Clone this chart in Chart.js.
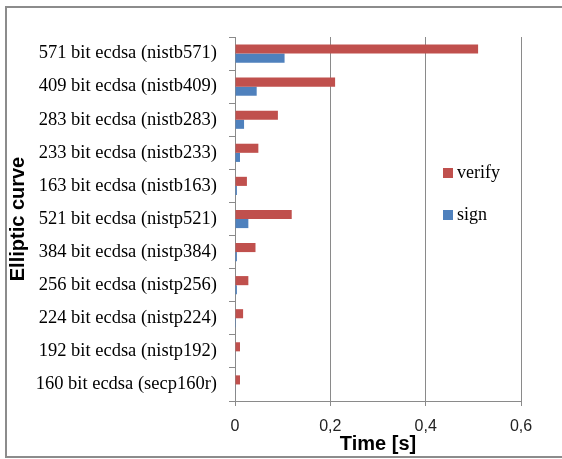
<!DOCTYPE html>
<html>
<head>
<meta charset="utf-8">
<script src="https://cdn.jsdelivr.net/npm/chart.js@4.4.0/dist/chart.umd.min.js"></script>
<style>
  html, body { margin:0; padding:0; background:#fff; }
  canvas { display:block; }
</style>
</head>
<body>
<canvas id="c" width="562" height="459"></canvas>
<script>
const curves = [
  '571 bit ecdsa (nistb571)',
  '409 bit ecdsa (nistb409)',
  '283 bit ecdsa (nistb283)',
  '233 bit ecdsa (nistb233)',
  '163 bit ecdsa (nistb163)',
  '521 bit ecdsa (nistp521)',
  '384 bit ecdsa (nistp384)',
  '256 bit ecdsa (nistp256)',
  '224 bit ecdsa (nistp224)',
  '192 bit ecdsa (nistp192)',
  '160 bit ecdsa (secp160r)'
];
const verifyTimes = [0.510, 0.210, 0.090, 0.049, 0.025, 0.119, 0.043, 0.028, 0.017, 0.0105, 0.0105];
const signTimes   = [0.104, 0.0455, 0.019, 0.0105, 0.004, 0.028, 0.004, 0.004, 0.002, 0.0012, 0.0012];
const xTicks = [0, 0.2, 0.4, 0.6];

const RED = '#C0504D', BLUE = '#4F81BD', GRID = '#8a8a8a';
const SERIF = '"Liberation Serif", "Times New Roman", serif';
const SANS = '"Liberation Sans", Arial, sans-serif';

// grey frame around the whole chart (right side runs off the image)
const frame = {
  id:'frame',
  beforeDraw(chart){
    const ctx = chart.ctx;
    ctx.save();
    ctx.fillStyle = '#fff';
    ctx.fillRect(0,0,chart.width,chart.height);
    ctx.strokeStyle = '#8c8c8c';
    ctx.lineWidth = 2;
    ctx.strokeRect(6, 7, chart.width + 10, chart.height - 9);
    ctx.restore();
  }
};

// legend drawn inside the plot, like the original
const innerLegend = {
  id:'innerLegend',
  afterDraw(chart){
    const ctx = chart.ctx;
    const a = chart.chartArea;
    ctx.save();
    ctx.font = '18px ' + SERIF;
    ctx.textBaseline = 'middle';
    ctx.textAlign = 'left';
    chart.data.datasets.forEach((ds, i) => {
      const y = a.top + 136 + i*42;
      const x = a.left + 208;
      ctx.fillStyle = ds.backgroundColor;
      ctx.fillRect(x, y-5, 10, 10);
      ctx.fillStyle = '#000';
      ctx.fillText(ds.label, x + 14, y);
    });
    ctx.restore();
  }
};

new Chart(document.getElementById('c'), {
  type:'bar',
  data:{
    labels: curves,
    datasets:[
      {label:'verify', data: verifyTimes, backgroundColor: RED, categoryPercentage:0.55, barPercentage:1.0},
      {label:'sign', data: signTimes, backgroundColor: BLUE, categoryPercentage:0.55, barPercentage:1.0}
    ]
  },
  options:{
    indexAxis:'y',
    responsive:false,
    animation:false,
    layout:{padding:{left:0, top:37, right:41, bottom:0}},
    plugins:{legend:{display:false}, tooltip:{enabled:false}},
    scales:{
      x:{
        min:0, max:0.6,
        afterBuildTicks: s => { s.ticks = xTicks.map(v => ({value:v})); },
        afterFit: s => { s.height = 58; },
        grid:{color:GRID, lineWidth:1, tickLength:5},
        border:{color:GRID},
        ticks:{
          color:'#222',
          font:{family:SANS, size:16},
          padding:11,
          callback: v => v === 0 ? '0' : Number(v).toFixed(1).replace('.', ',')
        },
        title:{display:true, text:'Time [s]', color:'#000',
          font:{family:SANS, size:20, weight:'bold'}, padding:{top:0, bottom:3}}
      },
      y:{
        afterFit: s => { s.width = 235; },
        grid:{display:true, drawOnChartArea:false, color:GRID, tickLength:6, offset:true},
        border:{color:GRID},
        ticks:{color:'#000', font:{family:SERIF, size:18.5}, padding:12},
        title:{display:true, text:'Elliptic curve', color:'#000',
          font:{family:SANS, size:20, weight:'bold'}, padding:{top:6, bottom:0}}
      }
    }
  },
  plugins:[frame, innerLegend]
});
</script>
</body>
</html>
